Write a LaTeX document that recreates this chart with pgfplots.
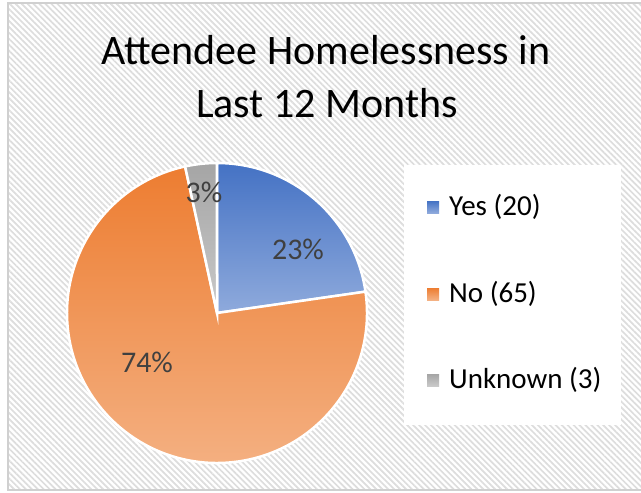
\documentclass[border=0pt]{standalone}
\usepackage{pgfplots}
\pgfplotsset{compat=1.18}
\usepackage{pgfplotstable}
\usepackage{fontspec}
\setmainfont{Carlito}
\usetikzlibrary{patterns.meta}

\definecolor{yesTop}{HTML}{4472C4}
\definecolor{yesBot}{HTML}{8FAADC}
\definecolor{noTop}{HTML}{ED7D31}
\definecolor{noBot}{HTML}{F4B183}
\definecolor{unkTop}{HTML}{A5A5A5}
\definecolor{unkBot}{HTML}{C9C9C9}
\definecolor{hatch}{HTML}{DDDDDD}
\definecolor{frame}{HTML}{D0D0D0}
\definecolor{lbl}{HTML}{404040}

\pgfplotstableread{
label   value
Yes     20
No      65
Unknown 3
}\piedata

\begin{document}
\begin{tikzpicture}
% slice angles from the table (clockwise from 12 o'clock)
\pgfplotstablegetelem{0}{value}\of\piedata \let\vY\pgfplotsretval
\pgfplotstablegetelem{1}{value}\of\piedata \let\vN\pgfplotsretval
\pgfplotstablegetelem{2}{value}\of\piedata \let\vU\pgfplotsretval
\pgfmathsetmacro\vT{\vY+\vN+\vU}
\pgfmathsetmacro\aA{90}
\pgfmathsetmacro\aB{\aA-360*(\vY/\vT)}
\pgfmathsetmacro\aC{\aB-360*(\vN/\vT)}
\pgfmathsetmacro\aD{\aC-360*(\vU/\vT)}
\begin{axis}[
    scale only axis,
    width=641bp, height=493bp,
    xmin=0, xmax=641, ymin=0, ymax=493,
    y dir=reverse,
    hide axis, clip=false,
]
\coordinate (BL) at (axis cs:0,493);
\coordinate (TR) at (axis cs:641,0);
% background
\fill[white] (axis cs:0,0) rectangle (axis cs:641,493);
\fill[pattern={Lines[angle=-45,distance=4.2bp,line width=1.7bp]}, pattern color=hatch]
    (axis cs:8,3) rectangle (axis cs:641,490);
\draw[frame, line width=1.2bp] (axis cs:641,3) -- (axis cs:8,3) -- (axis cs:8,490) -- (axis cs:641,490);

% title
\node[anchor=base, font=\fontsize{42bp}{48bp}\selectfont] at (axis cs:326,65) {Attendee Homelessness in};
\node[anchor=base, font=\fontsize{42bp}{48bp}\selectfont] at (axis cs:327,117) {Last 12 Months};

% pie
\draw[white, line width=2.5bp, top color=yesTop, bottom color=yesBot]
    (axis cs:217,313) -- ++(\aA:150bp) arc[start angle=\aA, end angle=\aB, radius=150bp] -- cycle;
\draw[white, line width=2.5bp, top color=noTop, bottom color=noBot]
    (axis cs:217,313) -- ++(\aB:150bp) arc[start angle=\aB, end angle=\aC, radius=150bp] -- cycle;
\draw[white, line width=2.5bp, top color=unkTop, bottom color=unkBot]
    (axis cs:217,313) -- ++(\aC:150bp) arc[start angle=\aC, end angle=\aD, radius=150bp] -- cycle;

% data labels
\node[lbl, font=\fontsize{30bp}{36bp}\selectfont] at (axis cs:298,249) {23\%};
\node[lbl, font=\fontsize{30bp}{36bp}\selectfont] at (axis cs:147,362) {74\%};
\node[lbl, font=\fontsize{30bp}{36bp}\selectfont] at (axis cs:204,192) {3\%};

% legend
\fill[white] (axis cs:404,165) rectangle (axis cs:621,425);
\shade[top color=yesTop, bottom color=yesBot] (axis cs:427,201) rectangle (axis cs:439,213);
\shade[top color=noTop, bottom color=noBot] (axis cs:427,288) rectangle (axis cs:439,300);
\shade[top color=unkTop, bottom color=unkBot] (axis cs:427,374) rectangle (axis cs:439,386);
\node[anchor=base west, inner sep=0pt, font=\fontsize{29bp}{34bp}\selectfont] at (axis cs:449,215) {Yes (20)};
\node[anchor=base west, inner sep=0pt, font=\fontsize{29bp}{34bp}\selectfont] at (axis cs:449,302) {No (65)};
\node[anchor=base west, inner sep=0pt, font=\fontsize{29bp}{34bp}\selectfont] at (axis cs:449,388) {Unknown (3)};
\end{axis}
\pgfresetboundingbox
\useasboundingbox (BL) rectangle (TR);
\end{tikzpicture}
\end{document}
